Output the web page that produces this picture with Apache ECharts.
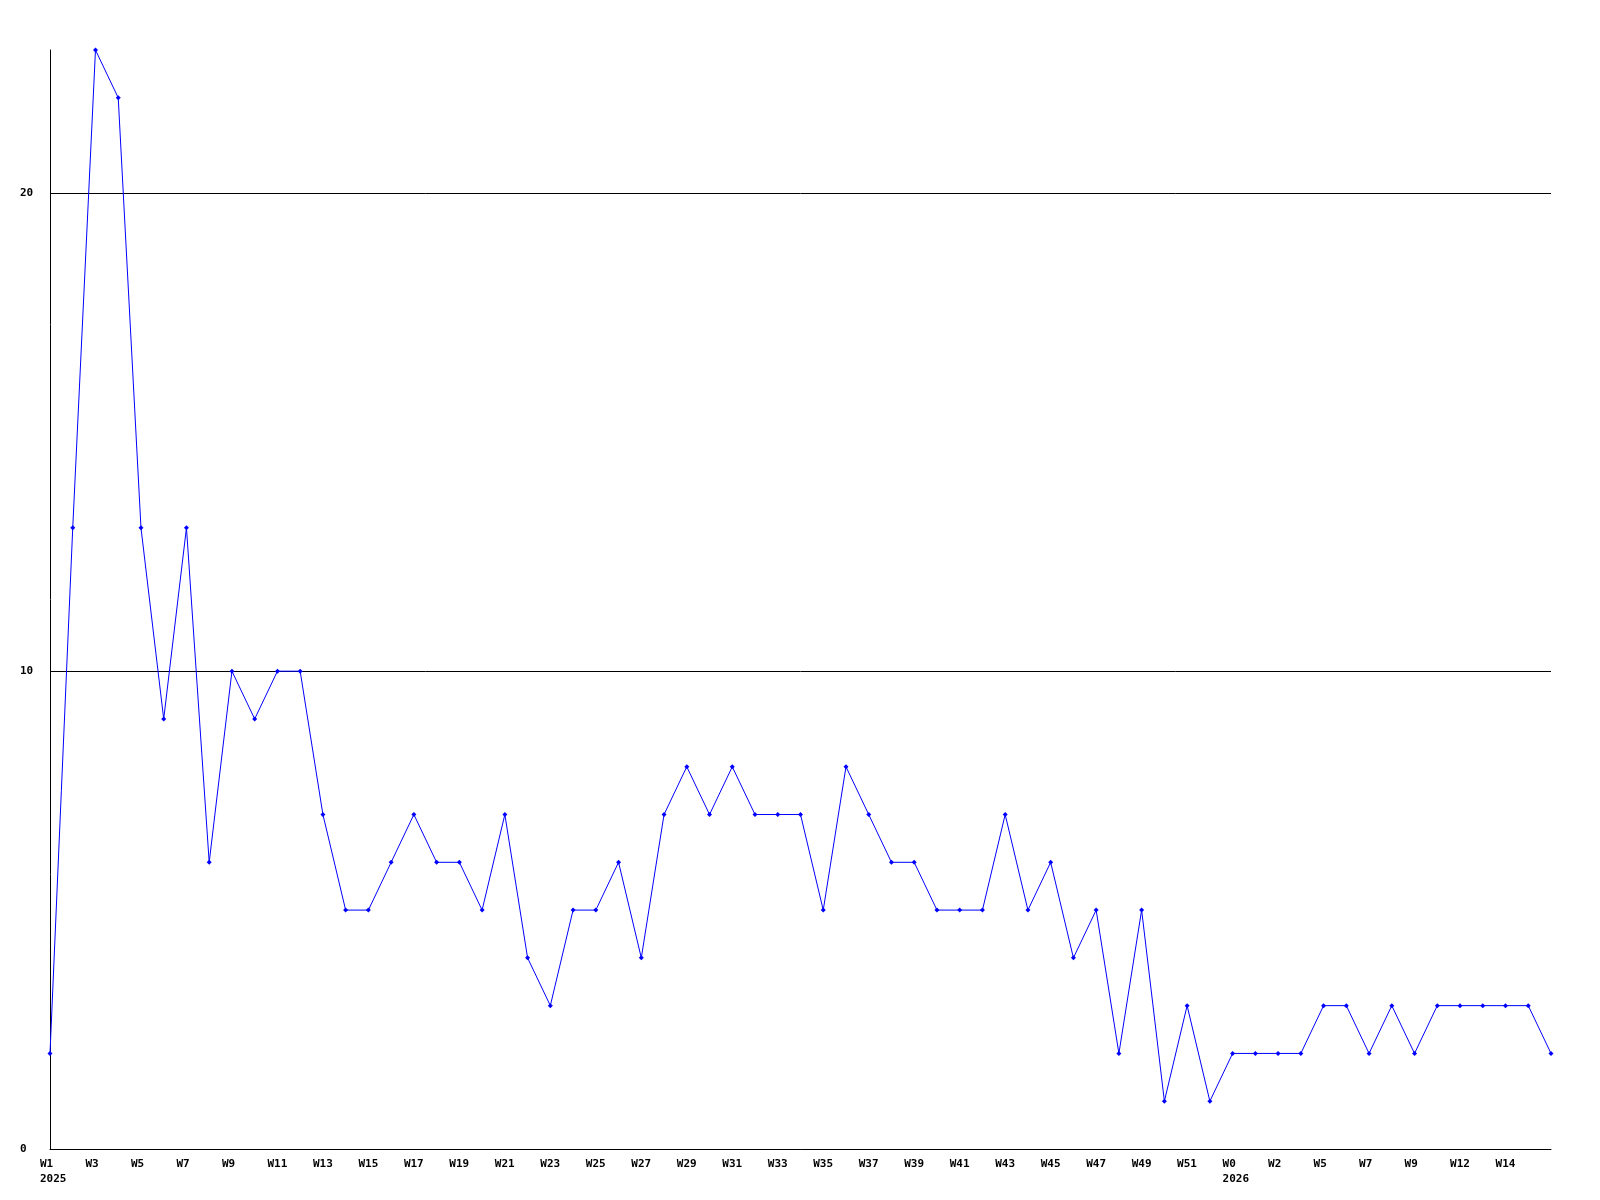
<!DOCTYPE html>
<html>
<head>
<meta charset="utf-8">
<script src="https://cdn.jsdelivr.net/npm/echarts@6/dist/echarts.min.js"></script>
<style>
  html, body { margin: 0; padding: 0; background: #fff; }
  #main { width: 1600px; height: 1200px; }
</style>
</head>
<body>
<div id="main"></div>
<script>
// week labels, 2025 then 2026
var weeks2025 = [];
for (var w = 1; w <= 52; w++) weeks2025.push('W' + w);
var weeks2026 = ['W0','W1','W2','W4','W5','W6','W7','W8','W9','W11','W12','W13','W14','W15','W16'];
var weeks = weeks2025.concat(weeks2026);

var counts2025 = [2,13,23,22,13,9,13,6,10,9,10,10,7,5,5,6,7,6,6,5,7,4,3,5,5,6,4,7,8,7,8,7,7,7,5,8,7,6,6,5,5,5,7,5,6,4,5,2,5,1,3,1];
var counts2026 = [2,2,2,2,3,3,2,3,2,3,3,3,3,3,2];
var counts = counts2025.concat(counts2026);

var yearStarts = { 0: '2025', 52: '2026' };

var myChart = echarts.init(document.getElementById('main'));
var font = 'DejaVu Sans Mono';
option = {
    backgroundColor: '#fff',
    animation: false,
    grid: { left: 50, right: 49, top: 50, bottom: 51 },
    xAxis: {
        type: 'category',
        data: weeks,
        boundaryGap: false,
        axisLine: { lineStyle: { color: '#000', width: 1 } },
        axisTick: { show: false },
        axisLabel: {
            margin: 8,
            color: '#000',
            interval: function (i) { return i % 2 === 0 && i < weeks.length - 1; },
            formatter: function (v, i) {
                var s = '{w|' + v + '}';
                return yearStarts[i] ? s + '\n{w|' + yearStarts[i] + '}' : s;
            },
            rich: {
                w: {
                    width: 20,
                    align: 'left',
                    fontFamily: font,
                    fontWeight: 'bold',
                    fontSize: 11,
                    lineHeight: 15,
                    color: '#000'
                }
            }
        },
        splitLine: { show: false }
    },
    yAxis: {
        type: 'value',
        min: 0,
        max: 23,
        interval: 10,
        axisLine: { show: true, lineStyle: { color: '#000', width: 1 } },
        axisTick: { show: false },
        axisLabel: {
            margin: 30,
            align: 'left',
            fontFamily: font,
            fontWeight: 'bold',
            fontSize: 11,
            color: '#000',
            showMaxLabel: false
        },
        splitLine: { show: true, showMaxLine: false, lineStyle: { color: '#000', width: 1 } }
    },
    series: [
        {
            type: 'line',
            data: counts,
            symbol: 'diamond',
            symbolSize: 5,
            lineStyle: { color: '#0000ff', width: 1 },
            itemStyle: { color: '#0000ff' }
        }
    ]
};
myChart.setOption(option);
</script>
</body>
</html>
